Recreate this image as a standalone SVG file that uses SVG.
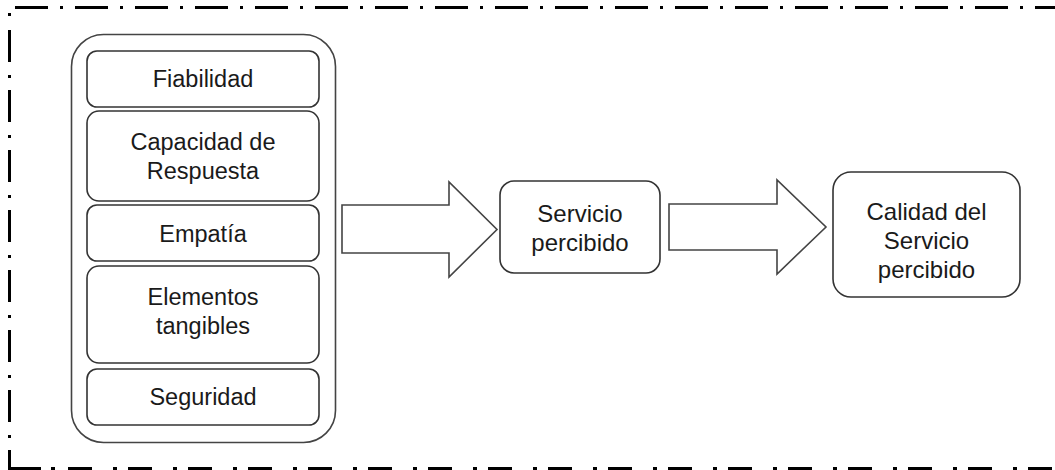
<svg xmlns="http://www.w3.org/2000/svg" width="1055" height="470" viewBox="0 0 1055 470">
<style>
.frame{stroke:#000;stroke-width:3;fill:none}
.box{fill:#fff;stroke:#333;stroke-width:1.6}
.outer{fill:#fff;stroke:#444;stroke-width:1.6}
.arrow{fill:#fff;stroke:#444;stroke-width:1.6;stroke-linejoin:miter}
text{font-family:"Liberation Sans",Arial,sans-serif;fill:#1a1a1a;text-anchor:middle}
.t1{font-size:23.5px}
.t2{font-size:24px}
</style>
<rect width="1055" height="470" fill="#fff"/>
<g id="frame">
<line class="frame" x1="15" y1="7.5" x2="1055" y2="7.5" stroke-dasharray="33 12 3 12"/>
<line class="frame" x1="9.5" y1="13" x2="9.5" y2="16"/>
<line class="frame" x1="9.5" y1="30" x2="9.5" y2="440" stroke-dasharray="32 13 3 12"/>
<path class="frame" d="M9.5,450 V468.5 H41"/>
<line class="frame" x1="51" y1="468.5" x2="55" y2="468.5"/>
<line class="frame" x1="68" y1="468.5" x2="1055" y2="468.5" stroke-dasharray="24 21 4 11"/>
</g>
<g id="dimensiones">
<rect class="outer" x="71.5" y="34.5" width="264" height="408" rx="32"/>
</g>
<g id="fiabilidad">
<rect class="box" x="87" y="51" width="232" height="56" rx="10"/>
<text class="t1" x="203" y="87">Fiabilidad</text>
</g>
<g id="capacidad">
<rect class="box" x="87" y="111" width="232" height="90" rx="12"/>
<text class="t1" x="203" y="150">Capacidad de</text>
<text class="t1" x="203" y="179">Respuesta</text>
</g>
<g id="empatia">
<rect class="box" x="87" y="205" width="232" height="56" rx="10"/>
<text class="t1" x="203" y="242">Empatía</text>
</g>
<g id="elementos">
<rect class="box" x="87" y="266" width="232" height="97" rx="12"/>
<text class="t1" x="203" y="305">Elementos</text>
<text class="t1" x="203" y="334">tangibles</text>
</g>
<g id="seguridad">
<rect class="box" x="87" y="369" width="232" height="56" rx="10"/>
<text class="t1" x="203" y="405">Seguridad</text>
</g>
<g id="connectors">
<path class="arrow" d="M342,205 H449 V182 L497,229.5 L449,277 V253 H342 Z"/>
<path class="arrow" d="M669,204 H777 V180 L826,227 L777,274 V250 H669 Z"/>
</g>
<g id="servicio">
<rect class="box" x="500" y="181" width="160" height="92" rx="14"/>
<text class="t2" x="580" y="222">Servicio</text>
<text class="t2" x="580" y="251">percibido</text>
</g>
<g id="calidad">
<rect class="box" x="833" y="172" width="187" height="125" rx="18"/>
<text class="t2" x="926.5" y="220">Calidad del</text>
<text class="t2" x="926.5" y="249">Servicio</text>
<text class="t2" x="926.5" y="278">percibido</text>
</g>
</svg>
